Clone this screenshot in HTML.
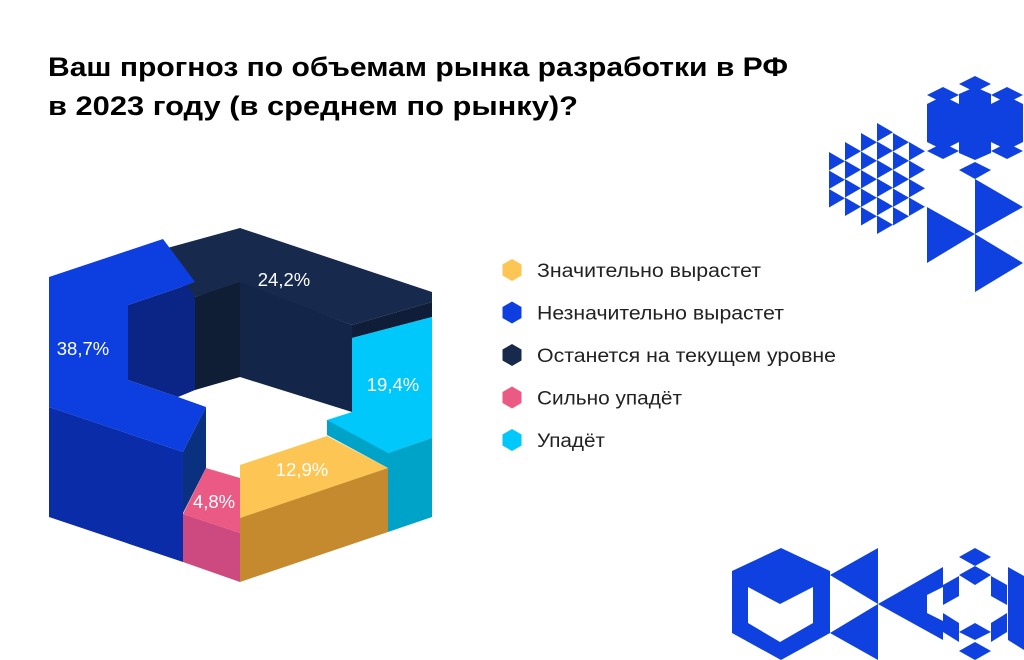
<!DOCTYPE html>
<html><head><meta charset="utf-8"><style>
html,body{margin:0;padding:0;background:#fff;}
body{width:1024px;height:660px;overflow:hidden;position:relative;font-family:"Liberation Sans",sans-serif;}
svg{position:absolute;left:0;top:0;}
</style></head><body>
<svg width="1024" height="660" viewBox="0 0 1024 660">
<g font-family="Liberation Sans, sans-serif" font-weight="bold" font-size="27" fill="#000">
<text x="48" y="76" textLength="740" lengthAdjust="spacingAndGlyphs">Ваш прогноз по объемам рынка разработки в РФ</text>
<text x="48" y="115" textLength="530" lengthAdjust="spacingAndGlyphs">в 2023 году (в среднем по рынку)?</text>
</g>
<g id="donut"></g>
<g id="legend"></g>
<g id="deco" fill="#0f40e0"></g>
</svg>
<script>
const categories = ["Значительно вырастет","Незначительно вырастет","Останется на текущем уровне","Сильно упадёт","Упадёт"];
const values = [12.9, 38.7, 24.2, 4.8, 19.4];
const valueLabels = ["12,9%","38,7%","24,2%","4,8%","19,4%"];
const colors = ["#fdc553","#0d3fe0","#172a4e","#eb5a84","#00c8fa"];
const legendWidths = [224, 247, 299, 145, 68];
const NS="http://www.w3.org/2000/svg";
function poly(parent, pts, fill){const p=document.createElementNS(NS,"polygon");p.setAttribute("points",pts.map(a=>a.join(",")).join(" "));p.setAttribute("fill",fill);parent.appendChild(p);return p;}
const donut=document.getElementById("donut");
const faces = {
 2:[
  [[[160,250],[240,228],[432,292],[432,302],[352,325],[240,283],[195,297],[185,290]],"#172a4e"],
  [[[352,325],[432,302],[432,317],[352,338]],"#101d38"],
  [[[195,297],[240,282],[240,377],[195,390]],"#0f1e35"],
  [[[240,282],[352,325],[352,412],[240,377]],"#14254a"]],
 1:[
  [[[128,305],[187,285],[195,297],[195,390],[178,397],[128,380]],"#0a2585"],
  [[[49,277],[163,239],[195,282],[187,285],[128,305],[128,380],[178,397],[206,407],[183,452],[49,407]],"#0d3fe0"],
  [[[49,407],[183,452],[183,562],[49,517]],"#0b2ca8"],
  [[[183,452],[206,407],[206,468],[183,513]],"#0a3080"]],
 4:[
  [[[352,338],[432,317],[432,438],[388,453],[327,435],[327,420],[352,412]],"#00c8fa"],
  [[[327,420],[327,435],[388,468],[388,453]],"#00a3c8"],
  [[[388,453],[432,438],[432,517],[388,532]],"#00a3c8"]],
 0:[
  [[[240,465],[327,436],[388,468],[240,518]],"#fdc553"],
  [[[240,518],[388,468],[388,532],[240,582]],"#c68a2e"]],
 3:[
  [[[206,468],[240,478],[240,533],[183,514]],"#eb5a84"],
  [[[183,514],[240,533],[240,582],[183,562]],"#cc4a80"]]
};
const labelPos = {0:[302,476],1:[83,355],2:[284,286],3:[214,508],4:[393,391]};
[2,1,4,0,3].forEach(i=>{
 const g=document.createElementNS(NS,"g");
 
 
 faces[i].forEach(f=>poly(g,f[0],f[1]));
 donut.appendChild(g);
});
[2,1,4,0,3].forEach(i=>{
 const t=document.createElementNS(NS,"text");
 
 
 t.setAttribute("x",labelPos[i][0]);t.setAttribute("y",labelPos[i][1]);
 t.setAttribute("text-anchor","middle");t.setAttribute("fill","#fff");t.setAttribute("font-size","18.5");
 t.textContent=valueLabels[i];donut.appendChild(t);
});
const legend=document.getElementById("legend");
categories.forEach((c,i)=>{
 const y=270+i*42.5;
 const g=document.createElementNS(NS,"g");
 
 
 const r=11,cx=512;
 const pts=[];for(let k=0;k<6;k++){const a=Math.PI/3*k-Math.PI/2;pts.push([(cx+r*Math.cos(a)).toFixed(1),(y+r*Math.sin(a)).toFixed(1)]);}
 poly(g,pts,colors[i]);
 const t=document.createElementNS(NS,"text");
 t.setAttribute("x",537);t.setAttribute("y",y+7);t.setAttribute("font-size","19");t.setAttribute("fill","#222");
 t.setAttribute("textLength",legendWidths[i]);t.setAttribute("lengthAdjust","spacingAndGlyphs");
 t.textContent=c;g.appendChild(t);legend.appendChild(g);
});
const deco=document.getElementById("deco");
poly(deco,[[959,84],[975,76],[991,84],[975,92]],"#0f40e0");
poly(deco,[[959,94],[975,87],[991,94],[991,153],[975,160],[959,153]],"#0f40e0");
poly(deco,[[927,104],[943,96],[959,104],[959,142],[943,150],[927,142]],"#0f40e0");
poly(deco,[[991,104],[1007,96],[1023,104],[1023,142],[1007,150],[991,142]],"#0f40e0");
poly(deco,[[927,95],[943,87],[959,95],[943,103]],"#0f40e0");
poly(deco,[[991,95],[1007,87],[1023,95],[1007,103]],"#0f40e0");
poly(deco,[[927,151],[943,143],[959,151],[943,159]],"#0f40e0");
poly(deco,[[991,151],[1007,143],[1023,151],[1007,159]],"#0f40e0");
poly(deco,[[959,170],[975,162],[991,170],[975,179]],"#0f40e0");
const colStart=[152,142,133,123,133,142],colCount=[3,4,5,6,5,4];
for(let c=0;c<6;c++){for(let k=0;k<colCount[c];k++){const x=829+c*16,y=colStart[c]+k*18.5;poly(deco,[[x,y],[x+16,y+9.25],[x,y+18.5]],"#0f40e0");}}
poly(deco,[[927,207],[975,234],[927,263]],"#0f40e0");
poly(deco,[[975,179],[1023,207],[975,234]],"#0f40e0");
poly(deco,[[975,234],[1023,263],[975,292]],"#0f40e0");
poly(deco,[[781,548],[830,571],[830,633],[781,660],[732,633],[732,571]],"#0f40e0");
poly(deco,[[748,587],[780,604],[813,587],[813,623],[780,642],[748,623]],"#fff");
poly(deco,[[830,575],[878,548],[878,604]],"#0f40e0");
poly(deco,[[830,633],[878,604],[878,660]],"#0f40e0");
poly(deco,[[878,604],[943,567],[943,640]],"#0f40e0");
poly(deco,[[927,595],[943,587],[943,621],[927,613]],"#fff");
poly(deco,[[959,557],[975,548],[991,557],[975,566]],"#0f40e0");
poly(deco,[[959,575],[975,566],[991,575],[975,585]],"#0f40e0");
poly(deco,[[959,632],[975,623],[991,632],[975,640]],"#0f40e0");
poly(deco,[[959,651],[975,642],[991,651],[975,660]],"#0f40e0");
poly(deco,[[943,585],[959,576],[959,596],[943,605]],"#0f40e0");
poly(deco,[[943,613],[959,623],[959,642],[943,632]],"#0f40e0");
poly(deco,[[991,576],[1007,585],[1007,605],[991,596]],"#0f40e0");
poly(deco,[[991,623],[1007,613],[1007,632],[991,642]],"#0f40e0");
poly(deco,[[1008,567],[1024,576],[1024,650],[1008,640]],"#0f40e0");
</script>
</body></html>
